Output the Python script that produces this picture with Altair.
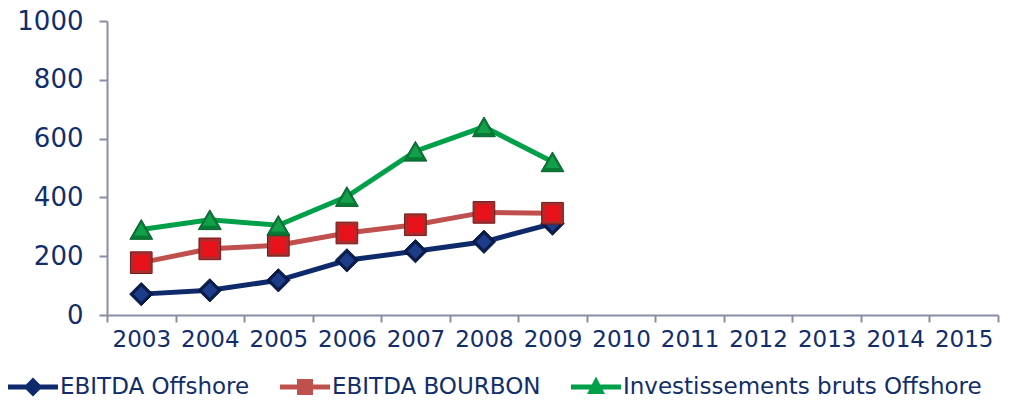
import altair as alt
import pandas as pd

# ---- data ----
categories = ["2003", "2004", "2005", "2006", "2007", "2008", "2009",
              "2010", "2011", "2012", "2013", "2014", "2015"]
data_years = ["2003", "2004", "2005", "2006", "2007", "2008", "2009"]
ebitda_offshore = [71, 84, 118, 186, 217, 249, 311]
ebitda_bourbon = [178, 225, 237, 279, 307, 349, 346]
invest_offshore = [291, 324, 305, 403, 557, 640, 521]
series_names = ["EBITDA Offshore", "EBITDA BOURBON", "Investissements bruts Offshore"]
y_ticks = [0, 200, 400, 600, 800, 1000]

# ---- styles ----
line_colors = ["#0E2A6B", "#C0504D", "#00A04A"]
marker_edge = ["#0A1C4E", "#A52E2E", "#077A36"]
marker_stroke = ["#05143A", "#7A1818", "#05602A"]
marker_center = ["#1E3D88", "#E8121B", "#13A04A"]
marker_shapes = ["diamond", "square", "triangle-up"]
marker_sizes = [540, 470, 520]
center_sizes = [230, 250, 200]
bar = "M-1,-0.1 H1 V0.1 H-1 Z "
legend_paths = [
    bar + "M0,-0.38 L0.38,0 L0,0.38 L-0.38,0 Z",
    bar + "M-0.32,-0.32 H0.32 V0.32 H-0.32 Z",
    bar + "M0,-0.42 L0.36,0.28 L-0.36,0.28 Z",
]
text_color = "#112E6B"
axis_color = "#8A8DA3"
font = "DejaVu Sans"

rows = []
for name, vals in zip(series_names, [ebitda_offshore, ebitda_bourbon, invest_offshore]):
    for yr, v in zip(data_years, vals):
        rows.append({"year": yr, "series": name, "value": v})
df = pd.DataFrame(rows)

x_enc = alt.X(
    "year:N",
    scale=alt.Scale(type="band", domain=categories, paddingInner=0, paddingOuter=0),
    axis=alt.Axis(title=None, labelAngle=0, tickBand="extent", tickSize=7,
                  labelPadding=6, labelFontSize=23, labelFont=font,
                  labelColor=text_color, domainColor=axis_color, domainWidth=2,
                  tickColor=axis_color, tickWidth=2, grid=False),
)
y_enc = alt.Y(
    "value:Q",
    scale=alt.Scale(domain=[0, 1000], nice=False),
    axis=alt.Axis(title=None, values=y_ticks, format="d", tickSize=8, labelPadding=16,
                  labelFontSize=26, labelFont=font, labelColor=text_color,
                  domainColor=axis_color, domainWidth=2, tickColor=axis_color,
                  tickWidth=2, grid=False),
)

base = alt.Chart(df).encode(x=x_enc, y=y_enc)

color_scale = alt.Scale(domain=series_names, range=line_colors)

legend_props = dict(
    orient="none", legendX=-99, legendY=341, direction="horizontal", title=None,
    labelFont=font, labelFontSize=23, labelColor=text_color, labelLimit=500,
    symbolSize=2500, symbolStrokeWidth=0, symbolOpacity=1, labelOffset=2,
    columnPadding=30,
)

# invisible layer that only carries the legend (line + marker symbols)
legend_layer = base.mark_point(filled=True, opacity=0, size=2500).encode(
    color=alt.Color("series:N", scale=color_scale, legend=alt.Legend(**legend_props)),
    shape=alt.Shape("series:N", scale=alt.Scale(domain=series_names, range=legend_paths),
                    legend=alt.Legend(**legend_props)),
)

lines = base.mark_line(strokeWidth=5).encode(
    color=alt.Color("series:N", scale=color_scale, legend=None),
    detail="series:N",
)

marker_layers = []
for i, name in enumerate(series_names):
    sub = base.transform_filter(alt.datum.series == name)
    marker_layers.append(
        sub.mark_point(
            filled=True, opacity=1, shape=marker_shapes[i], size=marker_sizes[i],
            fill=marker_edge[i], stroke=marker_stroke[i], strokeWidth=1,
        )
    )
    marker_layers.append(
        sub.mark_point(
            filled=True, opacity=1, shape=marker_shapes[i], size=center_sizes[i],
            fill=marker_center[i], strokeWidth=0,
        )
    )

chart = alt.layer(legend_layer, lines, *marker_layers).properties(
    width=891, height=294,
    autosize=alt.AutoSizeParams(type="none"),
    padding={"left": 99, "top": 13, "right": 9, "bottom": 84},
).configure_view(stroke=None)

chart.save("out.html", embed_options={"renderer": "svg", "actions": False})
